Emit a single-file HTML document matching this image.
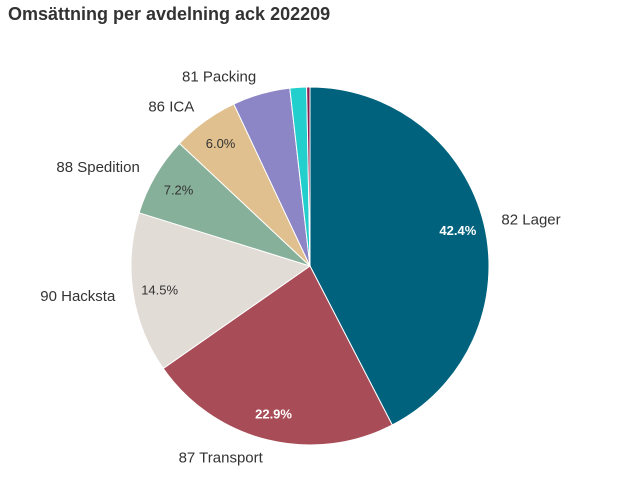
<!DOCTYPE html>
<html><head><meta charset="utf-8"><style>
body{margin:0;background:#fff;width:618px;height:493px;overflow:hidden;font-family:"Liberation Sans",sans-serif}
#title{position:absolute;left:8px;top:4px;font-size:18px;font-weight:bold;color:#333}
</style></head><body>
<div id="title">Omsättning per avdelning ack 202209</div>
<svg id="chart" width="618" height="493" style="position:absolute;left:0;top:0"></svg>
<script>
const categories=["82 Lager","87 Transport","90 Hacksta","88 Spedition","86 ICA","81 Packing","Övrigt A","Övrigt B"];
const values=[42.4,22.9,14.5,7.2,6.0,5.2,1.5,0.3];
const showLabel=[true,true,true,true,true,true,false,false];
const showPct=[true,true,true,true,true,false,false,false];
const colors=["#00627d","#a84d57","#e2dcd7","#87b09a","#e0c08e","#8c86c6","#22cfcc","#8a1c4e"];
const pctColor=["#fff","#fff","#333","#333","#333","#333","#333","#333"];
const ns="http://www.w3.org/2000/svg";
const svg=document.getElementById('chart');
const cx=310,cy=266,R=179;
const total=values.reduce((a,b)=>a+b,0);
function pt(a,r){return [cx+r*Math.sin(a),cy-r*Math.cos(a)];}
let acc=0;
values.forEach((v,i)=>{
  const a0=acc/total*2*Math.PI; acc+=v; const a1=acc/total*2*Math.PI;
  const p0=pt(a0,R),p1=pt(a1,R);
  const large=(a1-a0)>Math.PI?1:0;
  const path=document.createElementNS(ns,'path');
  path.setAttribute('d',`M${cx},${cy}L${p0[0]},${p0[1]}A${R},${R} 0 ${large} 1 ${p1[0]},${p1[1]}Z`);
  path.setAttribute('fill',colors[i]);
  path.setAttribute('stroke','#fff');
  path.setAttribute('stroke-width','1');
  
  
  svg.appendChild(path);
  const am=(a0+a1)/2;
  if(showPct[i]){
    const p=pt(am,R*0.85);
    const t=document.createElementNS(ns,'text');
    t.setAttribute('x',p[0]);t.setAttribute('y',p[1]+5);
    t.setAttribute('text-anchor','middle');t.setAttribute('font-size','13');
    t.setAttribute('fill',pctColor[i]);
    if(i<2)t.setAttribute('font-weight','bold');
    t.textContent=v.toFixed(1)+'%';
    
    
    svg.appendChild(t);
  }
  if(showLabel[i]){
    const p=pt(am,R+18);
    const t=document.createElementNS(ns,'text');
    const right=Math.sin(am)>0;
    t.setAttribute('x',p[0]);t.setAttribute('y',p[1]+5);
    t.setAttribute('text-anchor',right?'start':'end');
    t.setAttribute('font-size','15');t.setAttribute('fill','#333');
    t.textContent=categories[i];
    
    
    svg.appendChild(t);
  }
});
</script>
</body></html>
